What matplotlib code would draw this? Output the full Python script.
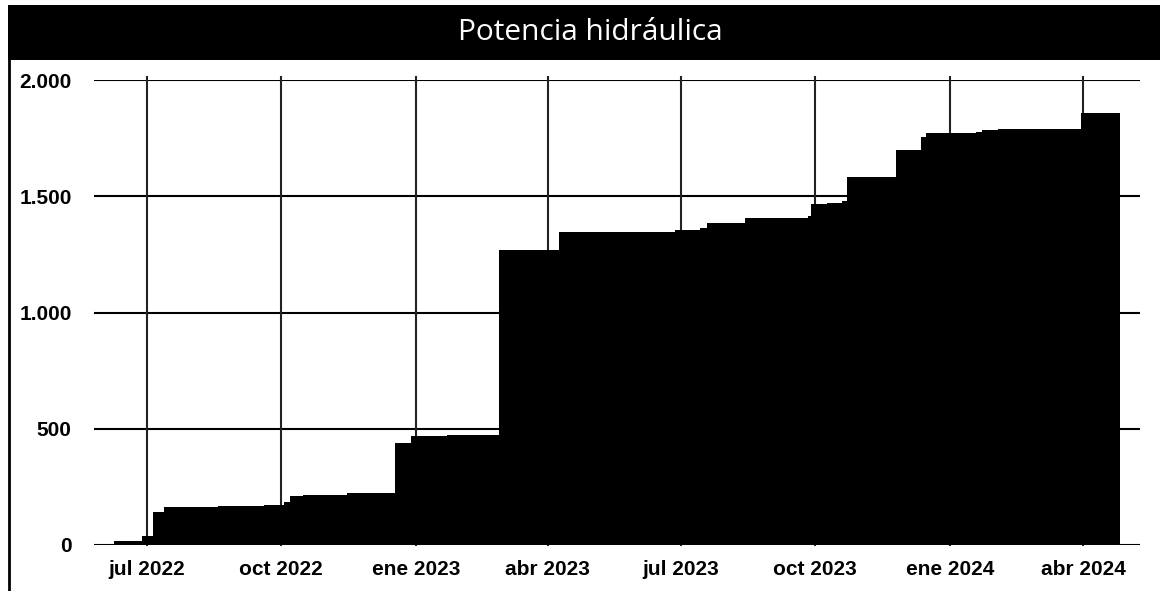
import matplotlib
matplotlib.use("Agg")
import matplotlib.pyplot as plt
import matplotlib.dates as mdates
from matplotlib.ticker import FuncFormatter
from matplotlib.patches import Rectangle
from matplotlib.lines import Line2D
import numpy as np
import datetime as dt

# Step dates (start of each level) and cumulative hydraulic power values
step_dates = ["2022-05-27", "2022-06-09", "2022-06-28", "2022-07-05", "2022-07-13",
              "2022-08-19", "2022-09-19", "2022-10-03", "2022-10-07", "2022-10-16",
              "2022-11-15", "2022-12-18", "2022-12-29", "2023-01-22", "2023-02-27",
              "2023-04-09", "2023-06-27", "2023-07-14", "2023-07-19", "2023-08-14",
              "2023-09-26", "2023-09-28", "2023-10-09", "2023-10-19", "2023-10-23",
              "2023-11-25", "2023-12-12", "2023-12-16", "2024-01-19", "2024-01-23",
              "2024-02-03", "2024-03-31"]
step_values = [3, 16, 38, 142, 162,
               166, 170, 185, 210, 216,
               222, 439, 468, 472, 1270,
               1346, 1355, 1365, 1387, 1408,
               1414, 1467, 1472, 1481, 1581,
               1698, 1755, 1770, 1777, 1787,
               1791, 1860]
end_date = "2024-04-26"

tick_dates = ["2022-07-01", "2022-10-01", "2023-01-01", "2023-04-01",
              "2023-07-01", "2023-10-01", "2024-01-01", "2024-04-01"]
tick_labels = ["jul 2022", "oct 2022", "ene 2023", "abr 2023",
               "jul 2023", "oct 2023", "ene 2024", "abr 2024"]
y_ticks = [0, 500, 1000, 1500, 2000]
title = "Potencia hidráulica"

W, H = 1160, 591
fig = plt.figure(figsize=(W / 100, H / 100), dpi=100)

def fx(px):
    return px / W

def fy(py):
    return 1 - py / H

ax = fig.add_axes([fx(94), fy(545), fx(1140) - fx(94), fy(80) - fy(545)])

edges = [mdates.date2num(dt.date.fromisoformat(d)) for d in step_dates + [end_date]]
ax.stairs(step_values, edges, fill=True, color="black", zorder=2, baseline=0)

ax.set_ylim(0, 2000)
ax.set_xlim(mdates.date2num(dt.date(2022, 5, 26)), mdates.date2num(dt.date(2024, 5, 10)))

tick_nums = [mdates.date2num(dt.date.fromisoformat(d)) for d in tick_dates]
ax.set_xticks(tick_nums)
ax.set_xticklabels(tick_labels)
ax.set_yticks(y_ticks)
ax.yaxis.set_major_formatter(FuncFormatter(lambda v, p: f"{int(v):,}".replace(",", ".")))

for s in ax.spines.values():
    s.set_visible(False)
ax.tick_params(axis="both", length=0, labelsize=15)
ax.tick_params(axis="y", pad=16)
ax.tick_params(axis="x", pad=11)
for lab in ax.get_xticklabels() + ax.get_yticklabels():
    lab.set_fontfamily("Liberation Sans")
    lab.set_fontweight("bold")

for y in y_ticks:
    ax.axhline(y, color="black", lw=1.5, zorder=1)
for x in tick_nums:
    ax.plot([x, x], [0, 2015], color="#222222", lw=1.5, zorder=1, clip_on=False)

# Title banner
fig.patches.append(Rectangle((fx(8), fy(60)), 1 - fx(8), fy(5) - fy(60),
                             transform=fig.transFigure, facecolor="black",
                             edgecolor="none", zorder=0))
fig.text(fx(590), fy(33), title, color="white", fontsize=21.5, family="Open Sans",
         ha="center", va="center")
# Left border
fig.lines.append(Line2D([fx(9), fx(9)], [fy(60), 0], transform=fig.transFigure,
                        color="black", lw=2))

fig.savefig("out.png", dpi=100)
